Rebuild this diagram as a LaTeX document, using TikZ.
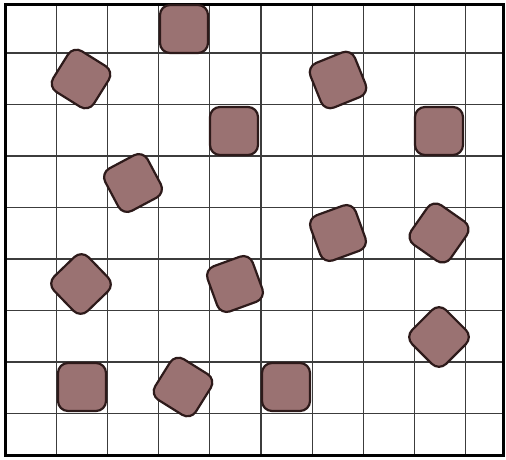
\documentclass[tikz,border=0pt]{standalone}
\definecolor{tilefill}{RGB}{154,114,114}
\definecolor{tileedge}{RGB}{45,26,26}
\definecolor{gridcol}{RGB}{60,60,60}
\tikzset{
  tile/.style={rectangle, draw=tileedge, fill=tilefill, line width=2.2pt,
    rounded corners=10pt, minimum size=48pt, inner sep=0pt},
  gridline/.style={draw=gridcol, line width=1.3pt},
  frameline/.style={draw=black, line width=3pt}
}
\begin{document}
\begin{tikzpicture}[x=1pt,y=-1pt]
\useasboundingbox (0,0) rectangle (506,459);
\fill[white] (0,0) rectangle (506,459);
% grid
\foreach \gx in {56.2,107.4,158.6,209.8,261,312.2,363.4,414.6,465.8}
  \draw[gridline] (\gx,4.5) -- (\gx,455);
\foreach \gy in {53,104.5,156,207.5,259,310.5,362,413.5}
  \draw[gridline] (5,\gy) -- (503,\gy);
% frame
\draw[frameline] (5,4.5) rectangle (503,455);
% tiles
\node[tile] (t1) at (184,29) {};
\node[tile, rotate=-32] (t2) at (81,79) {};
\node[tile, rotate=22] (t3) at (338,80) {};
\node[tile] (t4) at (234,131) {};
\node[tile] (t5) at (439,131) {};
\node[tile, rotate=28] (t6) at (133,183) {};
\node[tile, rotate=20] (t7) at (338,233) {};
\node[tile, rotate=-35] (t8) at (439,233) {};
\node[tile, rotate=44] (t9) at (81,284) {};
\node[tile, rotate=20] (t10) at (235,284) {};
\node[tile, rotate=45] (t11) at (439,337) {};
\node[tile] (t12) at (82,387) {};
\node[tile, rotate=-32] (t13) at (183,387) {};
\node[tile] (t14) at (286,387) {};
\end{tikzpicture}
\end{document}
